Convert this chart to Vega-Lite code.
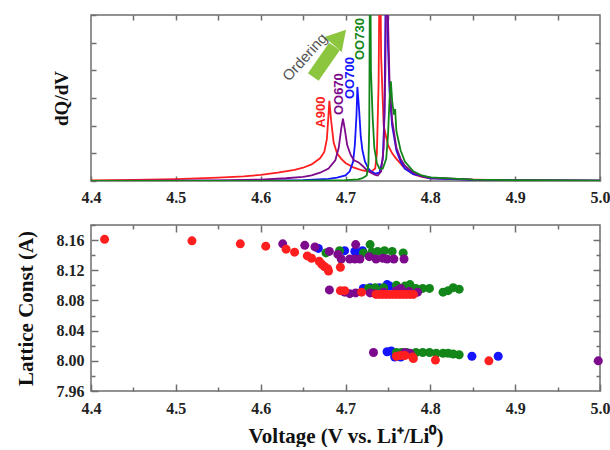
{
  "$schema": "https://vega.github.io/schema/vega-lite/v6.json",
  "background": "white",
  "padding": {"left": 14, "top": 13, "right": 0, "bottom": 0},
  "config": {
    "view": {"stroke": "#6e6e6e", "strokeWidth": 1.5},
    "axis": {
      "domain": false, "grid": false, "tickColor": "#6e6e6e", "tickWidth": 1.5,
      "labelFont": "Liberation Serif", "labelFontWeight": "bold", "labelFontSize": 16, "labelColor": "#222",
      "labelFlush": false, "labelOverlap": false, "labelBound": false,
      "titleFont": "Liberation Serif", "titleFontWeight": "bold", "titleColor": "#111"
    }
  },
  "datasets": {
    "curves": [
      {"series":"A900","voltage":4.40,"dqdv":0.02},{"series":"A900","voltage":4.45,"dqdv":0.04},{"series":"A900","voltage":4.50,"dqdv":0.07},{"series":"A900","voltage":4.55,"dqdv":0.12},{"series":"A900","voltage":4.58,"dqdv":0.17},{"series":"A900","voltage":4.60,"dqdv":0.22},{"series":"A900","voltage":4.62,"dqdv":0.30},{"series":"A900","voltage":4.64,"dqdv":0.40},{"series":"A900","voltage":4.65,"dqdv":0.48},{"series":"A900","voltage":4.66,"dqdv":0.60},{"series":"A900","voltage":4.67,"dqdv":0.82},{"series":"A900","voltage":4.675,"dqdv":1.05},{"series":"A900","voltage":4.678,"dqdv":1.5},{"series":"A900","voltage":4.680,"dqdv":2.4},{"series":"A900","voltage":4.681,"dqdv":2.9},{"series":"A900","voltage":4.683,"dqdv":2.2},{"series":"A900","voltage":4.686,"dqdv":1.4},{"series":"A900","voltage":4.69,"dqdv":1.0},{"series":"A900","voltage":4.695,"dqdv":0.8},{"series":"A900","voltage":4.70,"dqdv":0.65},{"series":"A900","voltage":4.71,"dqdv":0.48},{"series":"A900","voltage":4.72,"dqdv":0.38},{"series":"A900","voltage":4.73,"dqdv":0.33},{"series":"A900","voltage":4.735,"dqdv":0.45},{"series":"A900","voltage":4.737,"dqdv":1.0},{"series":"A900","voltage":4.739,"dqdv":3.5},{"series":"A900","voltage":4.7405,"dqdv":9},{"series":"A900","voltage":4.742,"dqdv":4.5},{"series":"A900","voltage":4.745,"dqdv":2.0},{"series":"A900","voltage":4.75,"dqdv":1.3},{"series":"A900","voltage":4.755,"dqdv":1.0},{"series":"A900","voltage":4.76,"dqdv":0.8},{"series":"A900","voltage":4.77,"dqdv":0.45},{"series":"A900","voltage":4.78,"dqdv":0.25},{"series":"A900","voltage":4.79,"dqdv":0.15},{"series":"A900","voltage":4.80,"dqdv":0.1},{"series":"A900","voltage":4.85,"dqdv":0.05},{"series":"A900","voltage":4.90,"dqdv":0.03},{"series":"A900","voltage":5.00,"dqdv":0.01},
      {"series":"OO700","voltage":4.40,"dqdv":0.0},{"series":"OO700","voltage":4.60,"dqdv":0.01},{"series":"OO700","voltage":4.65,"dqdv":0.03},{"series":"OO700","voltage":4.68,"dqdv":0.08},{"series":"OO700","voltage":4.69,"dqdv":0.12},{"series":"OO700","voltage":4.70,"dqdv":0.2},{"series":"OO700","voltage":4.705,"dqdv":0.35},{"series":"OO700","voltage":4.709,"dqdv":0.7},{"series":"OO700","voltage":4.711,"dqdv":1.3},{"series":"OO700","voltage":4.713,"dqdv":2.4},{"series":"OO700","voltage":4.714,"dqdv":3.4},{"series":"OO700","voltage":4.716,"dqdv":2.6},{"series":"OO700","voltage":4.718,"dqdv":1.6},{"series":"OO700","voltage":4.72,"dqdv":1.1},{"series":"OO700","voltage":4.723,"dqdv":0.7},{"series":"OO700","voltage":4.727,"dqdv":0.45},{"series":"OO700","voltage":4.73,"dqdv":0.35},{"series":"OO700","voltage":4.735,"dqdv":0.27},{"series":"OO700","voltage":4.74,"dqdv":0.3},{"series":"OO700","voltage":4.744,"dqdv":0.8},{"series":"OO700","voltage":4.746,"dqdv":2.5},{"series":"OO700","voltage":4.748,"dqdv":9},{"series":"OO700","voltage":4.750,"dqdv":5},{"series":"OO700","voltage":4.752,"dqdv":3.2},{"series":"OO700","voltage":4.755,"dqdv":2.0},{"series":"OO700","voltage":4.76,"dqdv":1.1},{"series":"OO700","voltage":4.765,"dqdv":0.7},{"series":"OO700","voltage":4.77,"dqdv":0.45},{"series":"OO700","voltage":4.78,"dqdv":0.25},{"series":"OO700","voltage":4.80,"dqdv":0.1},{"series":"OO700","voltage":4.85,"dqdv":0.04},{"series":"OO700","voltage":5.00,"dqdv":0.01},
      {"series":"OO670","voltage":4.40,"dqdv":0.0},{"series":"OO670","voltage":4.55,"dqdv":0.02},{"series":"OO670","voltage":4.60,"dqdv":0.05},{"series":"OO670","voltage":4.63,"dqdv":0.1},{"series":"OO670","voltage":4.65,"dqdv":0.15},{"series":"OO670","voltage":4.66,"dqdv":0.2},{"series":"OO670","voltage":4.67,"dqdv":0.3},{"series":"OO670","voltage":4.68,"dqdv":0.45},{"series":"OO670","voltage":4.688,"dqdv":0.75},{"series":"OO670","voltage":4.692,"dqdv":1.2},{"series":"OO670","voltage":4.695,"dqdv":1.9},{"series":"OO670","voltage":4.697,"dqdv":2.25},{"series":"OO670","voltage":4.699,"dqdv":1.9},{"series":"OO670","voltage":4.702,"dqdv":1.3},{"series":"OO670","voltage":4.706,"dqdv":0.95},{"series":"OO670","voltage":4.71,"dqdv":0.75},{"series":"OO670","voltage":4.715,"dqdv":0.68},{"series":"OO670","voltage":4.72,"dqdv":0.55},{"series":"OO670","voltage":4.725,"dqdv":0.4},{"series":"OO670","voltage":4.73,"dqdv":0.3},{"series":"OO670","voltage":4.735,"dqdv":0.22},{"series":"OO670","voltage":4.738,"dqdv":0.2},{"series":"OO670","voltage":4.742,"dqdv":0.35},{"series":"OO670","voltage":4.745,"dqdv":1.2},{"series":"OO670","voltage":4.747,"dqdv":4},{"series":"OO670","voltage":4.7485,"dqdv":9},{"series":"OO670","voltage":4.750,"dqdv":6},{"series":"OO670","voltage":4.752,"dqdv":3.5},{"series":"OO670","voltage":4.755,"dqdv":2.2},{"series":"OO670","voltage":4.76,"dqdv":1.2},{"series":"OO670","voltage":4.765,"dqdv":0.8},{"series":"OO670","voltage":4.77,"dqdv":0.55},{"series":"OO670","voltage":4.78,"dqdv":0.3},{"series":"OO670","voltage":4.79,"dqdv":0.18},{"series":"OO670","voltage":4.80,"dqdv":0.12},{"series":"OO670","voltage":4.85,"dqdv":0.05},{"series":"OO670","voltage":4.90,"dqdv":0.03},{"series":"OO670","voltage":5.00,"dqdv":0.01},
      {"series":"OO730","voltage":4.40,"dqdv":0.0},{"series":"OO730","voltage":4.65,"dqdv":0.01},{"series":"OO730","voltage":4.70,"dqdv":0.03},{"series":"OO730","voltage":4.715,"dqdv":0.06},{"series":"OO730","voltage":4.72,"dqdv":0.1},{"series":"OO730","voltage":4.725,"dqdv":0.2},{"series":"OO730","voltage":4.727,"dqdv":0.6},{"series":"OO730","voltage":4.728,"dqdv":2.0},{"series":"OO730","voltage":4.729,"dqdv":9},{"series":"OO730","voltage":4.730,"dqdv":4},{"series":"OO730","voltage":4.732,"dqdv":2.3},{"series":"OO730","voltage":4.734,"dqdv":1.2},{"series":"OO730","voltage":4.737,"dqdv":0.65},{"series":"OO730","voltage":4.74,"dqdv":0.45},{"series":"OO730","voltage":4.744,"dqdv":0.45},{"series":"OO730","voltage":4.748,"dqdv":0.8},{"series":"OO730","voltage":4.750,"dqdv":1.6},{"series":"OO730","voltage":4.752,"dqdv":3.0},{"series":"OO730","voltage":4.7535,"dqdv":3.6},{"series":"OO730","voltage":4.755,"dqdv":2.9},{"series":"OO730","voltage":4.757,"dqdv":2.4},{"series":"OO730","voltage":4.7585,"dqdv":2.6},{"series":"OO730","voltage":4.76,"dqdv":1.8},{"series":"OO730","voltage":4.765,"dqdv":1.1},{"series":"OO730","voltage":4.77,"dqdv":0.7},{"series":"OO730","voltage":4.78,"dqdv":0.35},{"series":"OO730","voltage":4.79,"dqdv":0.2},{"series":"OO730","voltage":4.80,"dqdv":0.13},{"series":"OO730","voltage":4.85,"dqdv":0.05},{"series":"OO730","voltage":4.90,"dqdv":0.03},{"series":"OO730","voltage":5.00,"dqdv":0.01}
    ],
    "labels": [
      {"series":"A900","voltage":4.671,"dqdv":2.49},
      {"series":"OO670","voltage":4.692,"dqdv":3.14},
      {"series":"OO700","voltage":4.705,"dqdv":3.72},
      {"series":"OO730","voltage":4.717,"dqdv":5.13}
    ],
    "ordering": [{"text":"Ordering","voltage":4.652,"dqdv":4.48}],
    "arrowBody": [{"voltage":4.662,"dqdv":3.76,"voltage2":4.687,"dqdv2":4.86}],
    "arrowHead": [{"voltage":4.693,"dqdv":5.2}],
    "points": [
      {"series":"OO700","voltage":4.668,"lattice":8.149},{"series":"OO700","voltage":4.699,"lattice":8.146},{"series":"OO700","voltage":4.711,"lattice":8.145},{"series":"OO700","voltage":4.715,"lattice":8.143},{"series":"OO700","voltage":4.720,"lattice":8.146},
      {"series":"OO700","voltage":4.721,"lattice":8.096},{"series":"OO700","voltage":4.729,"lattice":8.097},{"series":"OO700","voltage":4.740,"lattice":8.097},{"series":"OO700","voltage":4.749,"lattice":8.101},{"series":"OO700","voltage":4.752,"lattice":8.099},{"series":"OO700","voltage":4.760,"lattice":8.096},
      {"series":"OO700","voltage":4.749,"lattice":8.012},{"series":"OO700","voltage":4.754,"lattice":8.013},{"series":"OO700","voltage":4.758,"lattice":8.005},{"series":"OO700","voltage":4.765,"lattice":8.005},{"series":"OO700","voltage":4.849,"lattice":8.006},{"series":"OO700","voltage":4.880,"lattice":8.006},
      {"series":"OO730","voltage":4.677,"lattice":8.143},{"series":"OO730","voltage":4.693,"lattice":8.146},{"series":"OO730","voltage":4.721,"lattice":8.143},{"series":"OO730","voltage":4.729,"lattice":8.154},{"series":"OO730","voltage":4.731,"lattice":8.144},{"series":"OO730","voltage":4.738,"lattice":8.145},{"series":"OO730","voltage":4.746,"lattice":8.146},{"series":"OO730","voltage":4.755,"lattice":8.145},{"series":"OO730","voltage":4.768,"lattice":8.143},
      {"series":"OO730","voltage":4.727,"lattice":8.096},{"series":"OO730","voltage":4.735,"lattice":8.097},{"series":"OO730","voltage":4.745,"lattice":8.097},{"series":"OO730","voltage":4.760,"lattice":8.100},{"series":"OO730","voltage":4.770,"lattice":8.099},{"series":"OO730","voltage":4.776,"lattice":8.101},{"series":"OO730","voltage":4.783,"lattice":8.096},{"series":"OO730","voltage":4.791,"lattice":8.096},{"series":"OO730","voltage":4.799,"lattice":8.096},{"series":"OO730","voltage":4.815,"lattice":8.091},{"series":"OO730","voltage":4.821,"lattice":8.093},{"series":"OO730","voltage":4.827,"lattice":8.097},{"series":"OO730","voltage":4.834,"lattice":8.095},
      {"series":"OO730","voltage":4.760,"lattice":8.011},{"series":"OO730","voltage":4.766,"lattice":8.011},{"series":"OO730","voltage":4.772,"lattice":8.011},{"series":"OO730","voltage":4.783,"lattice":8.011},{"series":"OO730","voltage":4.791,"lattice":8.011},{"series":"OO730","voltage":4.799,"lattice":8.011},{"series":"OO730","voltage":4.807,"lattice":8.010},{"series":"OO730","voltage":4.815,"lattice":8.010},{"series":"OO730","voltage":4.821,"lattice":8.010},{"series":"OO730","voltage":4.827,"lattice":8.009},{"series":"OO730","voltage":4.834,"lattice":8.008},
      {"series":"OO670","voltage":4.626,"lattice":8.155},{"series":"OO670","voltage":4.652,"lattice":8.153},{"series":"OO670","voltage":4.664,"lattice":8.151},{"series":"OO670","voltage":4.681,"lattice":8.145},{"series":"OO670","voltage":4.691,"lattice":8.141},{"series":"OO670","voltage":4.712,"lattice":8.154},
      {"series":"OO670","voltage":4.695,"lattice":8.135},{"series":"OO670","voltage":4.705,"lattice":8.135},{"series":"OO670","voltage":4.711,"lattice":8.135},{"series":"OO670","voltage":4.717,"lattice":8.135},{"series":"OO670","voltage":4.728,"lattice":8.138},{"series":"OO670","voltage":4.736,"lattice":8.135},{"series":"OO670","voltage":4.744,"lattice":8.136},{"series":"OO670","voltage":4.749,"lattice":8.135},{"series":"OO670","voltage":4.757,"lattice":8.135},{"series":"OO670","voltage":4.769,"lattice":8.135},
      {"series":"OO670","voltage":4.681,"lattice":8.094},{"series":"OO670","voltage":4.699,"lattice":8.091},{"series":"OO670","voltage":4.705,"lattice":8.089},{"series":"OO670","voltage":4.712,"lattice":8.090},{"series":"OO670","voltage":4.729,"lattice":8.090},{"series":"OO670","voltage":4.735,"lattice":8.089},{"series":"OO670","voltage":4.745,"lattice":8.091},{"series":"OO670","voltage":4.760,"lattice":8.093},{"series":"OO670","voltage":4.765,"lattice":8.096},{"series":"OO670","voltage":4.775,"lattice":8.092},{"series":"OO670","voltage":4.785,"lattice":8.091},
      {"series":"OO670","voltage":4.733,"lattice":8.011},{"series":"OO670","voltage":4.770,"lattice":8.011},{"series":"OO670","voltage":4.776,"lattice":8.010},{"series":"OO670","voltage":4.998,"lattice":8.000},
      {"series":"A900","voltage":4.416,"lattice":8.161},{"series":"A900","voltage":4.519,"lattice":8.159},{"series":"A900","voltage":4.576,"lattice":8.155},{"series":"A900","voltage":4.606,"lattice":8.152},{"series":"A900","voltage":4.630,"lattice":8.148},{"series":"A900","voltage":4.640,"lattice":8.144},{"series":"A900","voltage":4.655,"lattice":8.139},{"series":"A900","voltage":4.660,"lattice":8.136},{"series":"A900","voltage":4.669,"lattice":8.132},{"series":"A900","voltage":4.672,"lattice":8.128},{"series":"A900","voltage":4.675,"lattice":8.125},{"series":"A900","voltage":4.679,"lattice":8.122},{"series":"A900","voltage":4.680,"lattice":8.119},{"series":"A900","voltage":4.694,"lattice":8.124},
      {"series":"A900","voltage":4.694,"lattice":8.093},{"series":"A900","voltage":4.699,"lattice":8.093},{"series":"A900","voltage":4.719,"lattice":8.091},{"series":"A900","voltage":4.736,"lattice":8.088},{"series":"A900","voltage":4.740,"lattice":8.088},{"series":"A900","voltage":4.744,"lattice":8.088},{"series":"A900","voltage":4.748,"lattice":8.088},{"series":"A900","voltage":4.752,"lattice":8.088},{"series":"A900","voltage":4.756,"lattice":8.088},{"series":"A900","voltage":4.760,"lattice":8.088},{"series":"A900","voltage":4.764,"lattice":8.088},{"series":"A900","voltage":4.768,"lattice":8.088},{"series":"A900","voltage":4.772,"lattice":8.088},{"series":"A900","voltage":4.776,"lattice":8.088},{"series":"A900","voltage":4.780,"lattice":8.088},
      {"series":"A900","voltage":4.760,"lattice":8.006},{"series":"A900","voltage":4.765,"lattice":8.007},{"series":"A900","voltage":4.770,"lattice":8.007},{"series":"A900","voltage":4.779,"lattice":8.005},{"series":"A900","voltage":4.780,"lattice":8.003},{"series":"A900","voltage":4.806,"lattice":8.001},{"series":"A900","voltage":4.869,"lattice":8.000}
    ]
  },
  "spacing": 44,
  "bounds": "flush",
  "vconcat": [
    {
      "width": 509, "height": 166,
      "resolve": {"axis": {"x": "independent", "y": "independent"}},
      "layer": [
        {
          "data": {"name": "curves"},
          "mark": {"type": "line", "clip": true, "strokeWidth": 1.8},
          "encoding": {
            "x": {"field": "voltage", "type": "quantitative", "scale": {"domain": [4.4, 5.0], "nice": false, "zero": false},
              "axis": {"orient": "bottom", "values": [4.4, 4.5, 4.6, 4.7, 4.8, 4.9, 5.0], "format": ".1f", "tickSize": -5, "labelPadding": 13, "title": null}},
            "y": {"field": "dqdv", "type": "quantitative", "scale": {"domain": [0, 6], "nice": false, "zero": false},
              "axis": {"orient": "left", "values": [0, 1, 2, 3, 4, 5, 6], "labels": false, "tickSize": -5, "title": "dQ/dV", "titleX": -30, "titleBaseline": "middle", "titleFontSize": 19}},
            "color": {"field": "series", "type": "nominal", "scale": {"domain": ["A900", "OO670", "OO700", "OO730"], "range": ["#ff1f1f", "#7d0a8c", "#1414ff", "#13861a"]}, "legend": null}
          }
        },
        {
          "data": {"name": "curves"},
          "mark": {"type": "line", "opacity": 0, "clip": true},
          "encoding": {
            "x": {"field": "voltage", "type": "quantitative",
              "axis": {"orient": "top", "values": [4.45, 4.5, 4.55, 4.6, 4.65, 4.7, 4.75, 4.8, 4.85, 4.9, 4.95], "labels": false, "tickSize": -5, "title": null}},
            "y": {"field": "dqdv", "type": "quantitative",
              "axis": {"orient": "right", "values": [1, 2, 3, 4, 5], "labels": false, "tickSize": -5, "title": null}}
          }
        },
        {
          "data": {"name": "labels"},
          "mark": {"type": "text", "angle": 270, "font": "Liberation Sans", "fontWeight": "bold", "fontSize": 13, "align": "center", "baseline": "middle"},
          "encoding": {
            "x": {"field": "voltage", "type": "quantitative", "axis": null},
            "y": {"field": "dqdv", "type": "quantitative", "axis": null},
            "text": {"field": "series"},
            "color": {"field": "series", "type": "nominal", "legend": null}
          }
        },
        {
          "data": {"name": "arrowBody"},
          "mark": {"type": "rule", "strokeWidth": 13, "color": "#8cc63f", "strokeCap": "butt"},
          "encoding": {
            "x": {"field": "voltage", "type": "quantitative", "axis": null},
            "y": {"field": "dqdv", "type": "quantitative", "axis": null},
            "x2": {"field": "voltage2"},
            "y2": {"field": "dqdv2"}
          }
        },
        {
          "data": {"name": "arrowHead"},
          "mark": {"type": "point", "shape": "triangle-up", "size": 520, "angle": 41, "filled": true, "color": "#8cc63f", "opacity": 1},
          "encoding": {
            "x": {"field": "voltage", "type": "quantitative", "axis": null},
            "y": {"field": "dqdv", "type": "quantitative", "axis": null}
          }
        },
        {
          "data": {"name": "ordering"},
          "mark": {"type": "text", "angle": 312, "font": "Liberation Sans", "fontSize": 15, "color": "#555", "align": "center", "baseline": "middle"},
          "encoding": {
            "x": {"field": "voltage", "type": "quantitative", "axis": null},
            "y": {"field": "dqdv", "type": "quantitative", "axis": null},
            "text": {"field": "text"}
          }
        }
      ]
    },
    {
      "width": 509, "height": 166,
      "resolve": {"axis": {"x": "independent", "y": "independent"}},
      "layer": [
        {
          "data": {"name": "points"},
          "mark": {"type": "circle", "size": 81, "opacity": 1, "clip": false},
          "encoding": {
            "x": {"field": "voltage", "type": "quantitative", "scale": {"domain": [4.4, 5.0], "nice": false, "zero": false},
              "axis": {"orient": "bottom", "values": [4.4, 4.5, 4.6, 4.7, 4.8, 4.9, 5.0], "format": ".1f", "tickSize": -7, "labelPadding": 16,
                "title": "Voltage (V vs. Li⁺/Li⁰)", "titleFontSize": 21, "titleY": 45, "titleBaseline": "middle"}},
            "y": {"field": "lattice", "type": "quantitative", "scale": {"domain": [7.96, 8.18], "nice": false, "zero": false},
              "axis": {"orient": "left", "values": [7.96, 8.0, 8.04, 8.08, 8.12, 8.16], "format": ".2f", "tickSize": -7, "labelPadding": 14,
                "title": "Lattice Const (A)", "titleFontSize": 21, "titleX": -65, "titleBaseline": "middle"}},
            "color": {"field": "series", "type": "nominal", "scale": {"domain": ["A900", "OO670", "OO700", "OO730"], "range": ["#ff1010", "#7a2090", "#1a1aff", "#1e8a1e"]}, "legend": null}
          }
        },
        {
          "data": {"name": "points"},
          "mark": {"type": "point", "opacity": 0},
          "encoding": {
            "x": {"field": "voltage", "type": "quantitative",
              "axis": {"orient": "bottom", "values": [4.45, 4.55, 4.65, 4.75, 4.85, 4.95], "labels": false, "tickSize": -4, "title": null}},
            "y": {"field": "lattice", "type": "quantitative",
              "axis": {"orient": "left", "values": [7.98, 8.02, 8.06, 8.1, 8.14, 8.18], "labels": false, "tickSize": -4, "title": null}}
          }
        },
        {
          "data": {"name": "points"},
          "mark": {"type": "point", "opacity": 0},
          "encoding": {
            "x": {"field": "voltage", "type": "quantitative",
              "axis": {"orient": "top", "values": [4.5, 4.6, 4.7, 4.8, 4.9], "labels": false, "tickSize": -7, "title": null}},
            "y": {"field": "lattice", "type": "quantitative",
              "axis": {"orient": "right", "values": [8.0, 8.04, 8.08, 8.12, 8.16], "labels": false, "tickSize": -7, "title": null}}
          }
        },
        {
          "data": {"name": "points"},
          "mark": {"type": "point", "opacity": 0},
          "encoding": {
            "x": {"field": "voltage", "type": "quantitative",
              "axis": {"orient": "top", "values": [4.45, 4.55, 4.65, 4.75, 4.85, 4.95], "labels": false, "tickSize": -4, "title": null}},
            "y": {"field": "lattice", "type": "quantitative",
              "axis": {"orient": "right", "values": [7.98, 8.02, 8.06, 8.1, 8.14], "labels": false, "tickSize": -4, "title": null}}
          }
        }
      ]
    }
  ]
}
